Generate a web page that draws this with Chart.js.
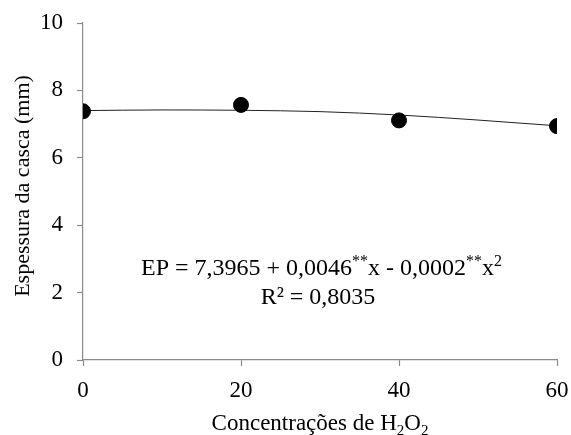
<!DOCTYPE html>
<html>
<head>
<meta charset="utf-8">
<script src="https://cdn.jsdelivr.net/npm/chart.js@4"></script>
<style>
html,body{margin:0;padding:0;background:#fff;}
#wrap{width:571px;height:435px;position:relative;}
</style>
</head>
<body>
<div id="wrap"><canvas id="c" width="571" height="435"></canvas></div>
<script>
// Data
const concentracoes = [0, 20, 40, 60];
const espessura = [7.38, 7.57, 7.11, 6.94];
const curveX = [0, 10, 20, 30, 40, 50, 60];
const curveY = [7.40, 7.42, 7.41, 7.37, 7.27, 7.12, 6.95];
const xTickValues = [0, 20, 40, 60];
const yTickValues = [0, 2, 4, 6, 8, 10];
const yTitle = 'Espessura da casca (mm)';
const equationParts = [
  ['EP = 7,3965 + 0,0046', 'n'], ['**', 'sup'], ['x - 0,0002', 'n'], ['**', 'sup'], ['x', 'n'], ['2', 'sup']
];
const r2Text = 'R² = 0,8035';
const xTitleParts = [['Concentrações de H', 'n'], ['2', 'sub'], ['O', 'n'], ['2', 'sub']];

const FONT = '"Liberation Serif", "Times New Roman", serif';
const AXIS = '#8a8a8a';

function drawParts(ctx, parts, cx, baseline, size) {
  const fontN = size + 'px ' + FONT;
  const fontS = Math.round(size * 0.66) + 'px ' + FONT;
  let total = 0;
  parts.forEach(([t, k]) => { ctx.font = k === 'n' ? fontN : fontS; total += ctx.measureText(t).width; });
  let x = cx - total / 2;
  ctx.textAlign = 'left';
  ctx.textBaseline = 'alphabetic';
  parts.forEach(([t, k]) => {
    ctx.font = k === 'n' ? fontN : fontS;
    let y = baseline;
    if (k === 'sup') y = baseline - size * 0.36;
    if (k === 'sub') y = baseline + size * 0.2;
    ctx.fillText(t, x, y);
    x += ctx.measureText(t).width;
  });
}

const textPlugin = {
  id: 'texts',
  afterDraw(chart) {
    const ctx = chart.ctx;
    ctx.save();
    ctx.fillStyle = '#000';
    drawParts(ctx, equationParts, 321.5, 275, 24);
    ctx.font = '24px ' + FONT;
    ctx.textAlign = 'center';
    ctx.textBaseline = 'alphabetic';
    ctx.fillText(r2Text, 318, 304);
    drawParts(ctx, xTitleParts, 320, 430, 23);
    // y-axis title
    ctx.translate(23, 186);
    ctx.rotate(-Math.PI / 2);
    ctx.font = '22px ' + FONT;
    ctx.textAlign = 'center';
    ctx.textBaseline = 'middle';
    ctx.fillText(yTitle, 0, 0);
    ctx.restore();
  }
};

new Chart(document.getElementById('c'), {
  type: 'scatter',
  data: {
    datasets: [
      {
        type: 'line',
        data: curveX.map((x, i) => ({x: x, y: curveY[i]})),
        borderColor: '#222',
        borderWidth: 1,
        pointRadius: 0,
        cubicInterpolationMode: 'monotone',
        fill: false,
        order: 2
      },
      {
        data: concentracoes.map((x, i) => ({x: x, y: espessura[i]})),
        backgroundColor: '#000',
        borderColor: '#000',
        pointRadius: 7.5,
        pointHoverRadius: 7.5,
        order: 1
      }
    ]
  },
  options: {
    responsive: false,
    animation: false,
    events: [],
    layout: { padding: { top: 23, right: 14, left: 0, bottom: 0 } },
    plugins: { legend: { display: false }, tooltip: { enabled: false } },
    scales: {
      x: {
        type: 'linear', min: 0, max: 60,
        afterBuildTicks: s => { s.ticks = xTickValues.map(v => ({value: v})); },
        afterFit: s => { s.height = 75; s.paddingLeft = 0; s.paddingRight = 0; },
        grid: { drawOnChartArea: false, tickLength: 6, color: AXIS, tickWidth: 1.2 },
        border: { color: AXIS, width: 1.2 },
        ticks: { color: '#000', font: { family: FONT, size: 23 }, padding: 11, maxRotation: 0 }
      },
      y: {
        min: 0, max: 10,
        afterBuildTicks: s => { s.ticks = yTickValues.map(v => ({value: v})); },
        afterFit: s => { s.width = 83; s.paddingTop = 0; s.paddingBottom = 0; },
        grid: { drawOnChartArea: false, tickLength: 6, color: AXIS, tickWidth: 1.2 },
        border: { color: AXIS, width: 1.2 },
        ticks: { color: '#000', font: { family: FONT, size: 23 }, padding: 14 },
        title: { display: false }
      }
    }
  },
  plugins: [textPlugin]
});
</script>
</body>
</html>
